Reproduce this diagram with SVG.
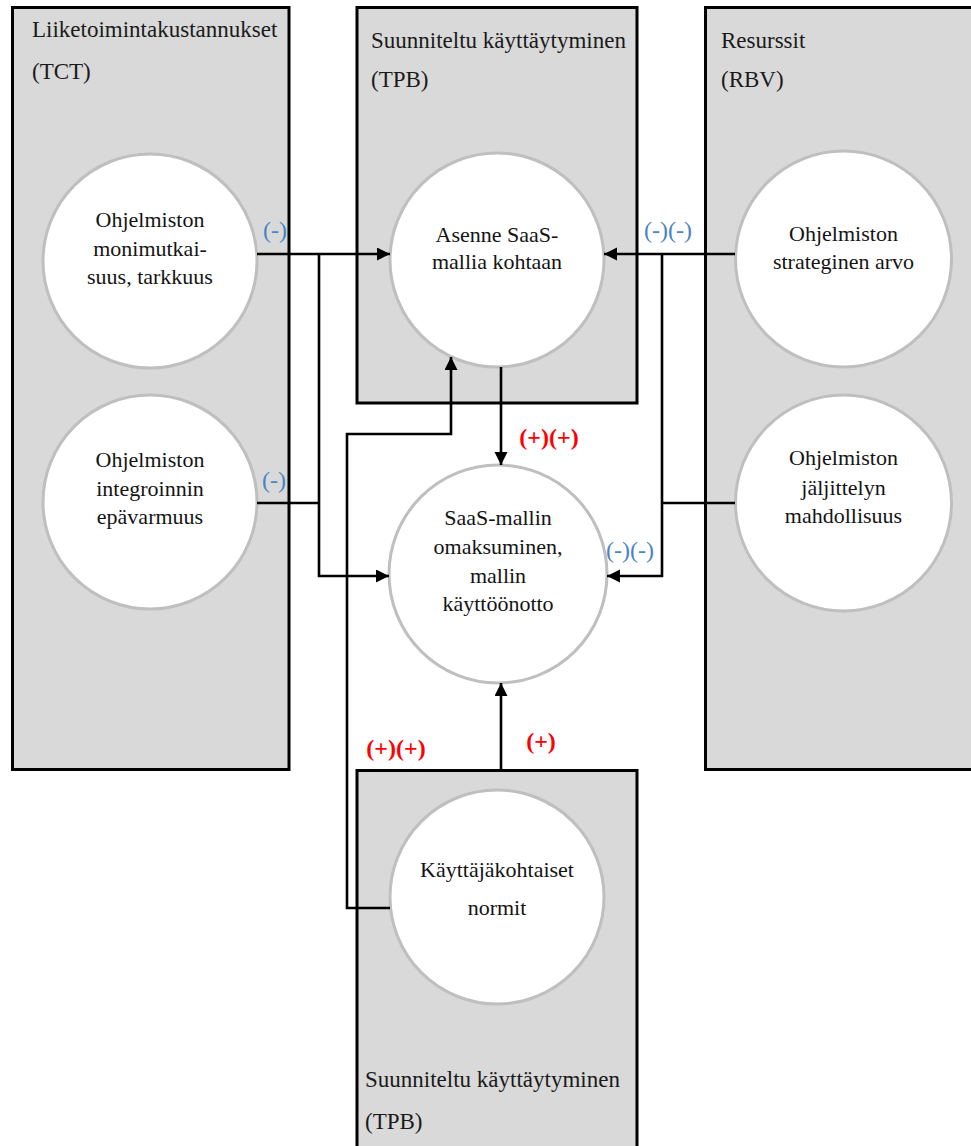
<svg xmlns="http://www.w3.org/2000/svg" width="971" height="1146" viewBox="0 0 971 1146">
  <style>
    .panel { fill: #d9d9d9; stroke: #000; stroke-width: 3; }
    .node { fill: #fff; stroke: #bfbfbf; stroke-width: 3; }
    .hdr { font-family: "Liberation Serif", "Times New Roman", serif; font-size: 23px; fill: #1a1a1a; }
    .lbl { font-family: "Liberation Serif", "Times New Roman", serif; font-size: 22px; fill: #141414; text-anchor: middle; }
    .neg { font-family: "Liberation Serif", "Times New Roman", serif; font-size: 24px; fill: #4a84c4; text-anchor: middle; }
    .pos { font-family: "Liberation Serif", "Times New Roman", serif; font-size: 24px; font-weight: bold; fill: #ff0000; text-anchor: middle; }
    .wire { fill: none; stroke: #000; stroke-width: 2.6; }
  </style>
  <defs>
    <marker id="arrow" markerUnits="userSpaceOnUse" markerWidth="14" markerHeight="14" refX="13" refY="6.5" orient="auto">
      <path d="M0,0 L13,6.5 L0,13 z" fill="#000"/>
    </marker>
  </defs>

  <rect width="971" height="1146" fill="#fff"/>

  <!-- theory panels -->
  <g id="panel-tct">
    <rect class="panel" x="12.5" y="7.5" width="276.5" height="762"/>
    <text class="hdr" x="32" y="37">Liiketoimintakustannukset</text>
    <text class="hdr" x="32" y="79">(TCT)</text>
  </g>
  <g id="panel-tpb-top">
    <rect class="panel" x="357" y="7.5" width="280" height="395.5"/>
    <text class="hdr" x="371" y="48">Suunniteltu käyttäytyminen</text>
    <text class="hdr" x="371" y="87">(TPB)</text>
  </g>
  <g id="panel-rbv">
    <rect class="panel" x="705.5" y="7.5" width="275" height="762"/>
    <text class="hdr" x="721" y="48">Resurssit</text>
    <text class="hdr" x="721" y="87">(RBV)</text>
  </g>
  <g id="panel-tpb-bottom">
    <rect class="panel" x="357" y="770.5" width="280" height="385"/>
    <text class="hdr" x="365" y="1087">Suunniteltu käyttäytyminen</text>
    <text class="hdr" x="365" y="1129">(TPB)</text>
  </g>

  <!-- construct nodes -->
  <g id="node-complexity">
    <circle class="node" cx="150" cy="261" r="107"/>
    <text class="lbl" x="150" y="227">Ohjelmiston</text>
    <text class="lbl" x="150" y="256">monimutkai-</text>
    <text class="lbl" x="150" y="284">suus, tarkkuus</text>
  </g>
  <g id="node-integration">
    <circle class="node" cx="150" cy="502" r="107"/>
    <text class="lbl" x="150" y="467">Ohjelmiston</text>
    <text class="lbl" x="150" y="496">integroinnin</text>
    <text class="lbl" x="150" y="524">epävarmuus</text>
  </g>
  <g id="node-attitude">
    <circle class="node" cx="497" cy="260" r="107"/>
    <text class="lbl" x="497" y="242">Asenne SaaS-</text>
    <text class="lbl" x="497" y="269">mallia kohtaan</text>
  </g>
  <g id="node-adoption">
    <circle class="node" cx="498" cy="574" r="109"/>
    <text class="lbl" x="498" y="525">SaaS-mallin</text>
    <text class="lbl" x="498" y="554">omaksuminen,</text>
    <text class="lbl" x="498" y="583">mallin</text>
    <text class="lbl" x="498" y="611">käyttöönotto</text>
  </g>
  <g id="node-strategic">
    <circle class="node" cx="843.5" cy="259" r="108"/>
    <text class="lbl" x="843.5" y="241">Ohjelmiston</text>
    <text class="lbl" x="843.5" y="269">strateginen arvo</text>
  </g>
  <g id="node-imitation">
    <circle class="node" cx="843.5" cy="503" r="108"/>
    <text class="lbl" x="843.5" y="465">Ohjelmiston</text>
    <text class="lbl" x="843.5" y="495">jäljittelyn</text>
    <text class="lbl" x="843.5" y="523">mahdollisuus</text>
  </g>
  <g id="node-norms">
    <circle class="node" cx="497" cy="897" r="107"/>
    <text class="lbl" x="497" y="877">Käyttäjäkohtaiset</text>
    <text class="lbl" x="497" y="915">normit</text>
  </g>

  <!-- connectors -->
  <g id="connectors">
    <path class="wire" d="M257,254 H390" marker-end="url(#arrow)"/>
    <path class="wire" d="M319,254 V576 H389" marker-end="url(#arrow)"/>
    <path class="wire" d="M257,503 H319"/>
    <path class="wire" d="M735,254 H604" marker-end="url(#arrow)"/>
    <path class="wire" d="M662,254 V576 H607" marker-end="url(#arrow)"/>
    <path class="wire" d="M735,503 H662"/>
    <path class="wire" d="M501,367 V465" marker-end="url(#arrow)"/>
    <path class="wire" d="M501,771 V683" marker-end="url(#arrow)"/>
    <path class="wire" d="M390,908 H347 V434 H451 V357" marker-end="url(#arrow)"/>
  </g>

  <!-- effect signs -->
  <g id="signs">
    <text class="neg" x="275" y="238">(-)</text>
    <text class="neg" x="274" y="488">(-)</text>
    <text class="neg" x="668" y="238">(-)(-)</text>
    <text class="neg" x="630" y="558">(-)(-)</text>
    <text class="pos" x="549" y="445">(+)(+)</text>
    <text class="pos" x="541" y="749">(+)</text>
    <text class="pos" x="396" y="756">(+)(+)</text>
  </g>
</svg>
